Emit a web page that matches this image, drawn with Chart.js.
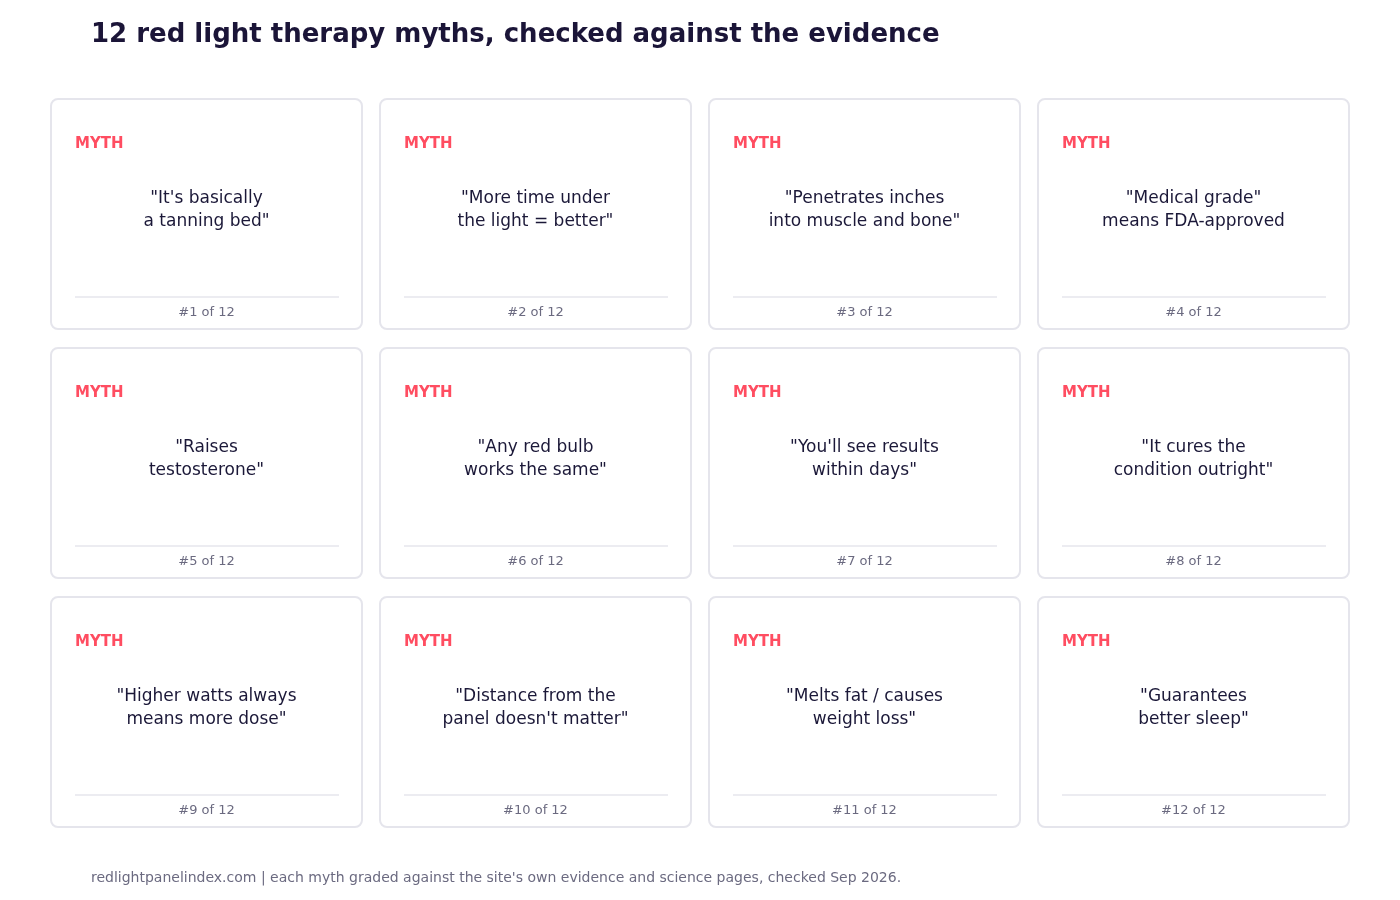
<!DOCTYPE html>
<html>
<head>
<meta charset="utf-8">
<script src="https://cdn.jsdelivr.net/npm/chart.js@4.4.1/dist/chart.umd.min.js"></script>
<style>
  html, body { margin: 0; padding: 0; background: #ffffff; }
  #wrap { width: 1400px; height: 900px; }
</style>
</head>
<body>
<div id="wrap"><canvas id="mythGrid" width="1400" height="900"></canvas></div>
<script>
const titleText = "12 red light therapy myths, checked against the evidence";
const footerText = "redlightpanelindex.com | each myth graded against the site's own evidence and science pages, checked Sep 2026.";

const cardTag = "MYTH";
const myths = [
  "\"It's basically\na tanning bed\"",
  "\"More time under\nthe light = better\"",
  "\"Penetrates inches\ninto muscle and bone\"",
  "\"Medical grade\"\nmeans FDA-approved",
  "\"Raises\ntestosterone\"",
  "\"Any red bulb\nworks the same\"",
  "\"You'll see results\nwithin days\"",
  "\"It cures the\ncondition outright\"",
  "\"Higher watts always\nmeans more dose\"",
  "\"Distance from the\npanel doesn't matter\"",
  "\"Melts fat / causes\nweight loss\"",
  "\"Guarantees\nbetter sleep\""
];
const mythNumbers = myths.map((m, i) => "#" + (i + 1) + " of " + myths.length);

const gridCols = 4;
const gridRows = 3;
const cardPoints = myths.map((m, i) => ({ x: (i % gridCols) + 0.5, y: Math.floor(i / gridCols) + 0.5 }));

const FONT = "'DejaVu Sans', sans-serif";

function roundRect(ctx, x, y, w, h, r) {
  ctx.beginPath();
  ctx.moveTo(x + r, y);
  ctx.lineTo(x + w - r, y);
  ctx.arcTo(x + w, y, x + w, y + r, r);
  ctx.lineTo(x + w, y + h - r);
  ctx.arcTo(x + w, y + h, x + w - r, y + h, r);
  ctx.lineTo(x + r, y + h);
  ctx.arcTo(x, y + h, x, y + h - r, r);
  ctx.lineTo(x, y + r);
  ctx.arcTo(x, y, x + r, y, r);
  ctx.closePath();
}

const cardPlugin = {
  id: "cards",
  afterDatasetsDraw(chart) {
    const ctx = chart.ctx;
    const xs = chart.scales.x;
    const ys = chart.scales.y;
    const meta = chart.getDatasetMeta(0);
    const halfW = (xs.getPixelForValue(1) - xs.getPixelForValue(0)) / 2 - 9;
    const halfH = Math.abs(ys.getPixelForValue(1) - ys.getPixelForValue(0)) / 2 - 9.5;

    meta.data.forEach((pt, i) => {
      const left = pt.x - halfW;
      const top = pt.y - halfH;
      const w = halfW * 2;
      const h = halfH * 2;
      ctx.save();
      roundRect(ctx, left, top, w, h, 7);
      ctx.fillStyle = "#ffffff";
      ctx.fill();
      ctx.lineWidth = 2;
      ctx.strokeStyle = "#e5e5ec";
      ctx.stroke();

      ctx.fillStyle = "#ff4d61";
      ctx.font = "bold 15px " + FONT;
      ctx.textAlign = "left";
      ctx.textBaseline = "middle";
      ctx.fillText(cardTag, left + 24, top + 45);

      const lines = myths[i].split("\n");
      ctx.fillStyle = "#1b1838";
      ctx.font = "17px " + FONT;
      ctx.textAlign = "center";
      const lh = 23.5;
      const mid = top + 111;
      lines.forEach((ln, k) => {
        ctx.fillText(ln, pt.x, mid + (k - (lines.length - 1) / 2) * lh);
      });

      ctx.beginPath();
      ctx.moveTo(left + 24, top + 198);
      ctx.lineTo(left + w - 23, top + 198);
      ctx.lineWidth = 1.5;
      ctx.strokeStyle = "#e6e6ec";
      ctx.stroke();

      ctx.fillStyle = "#6b6a80";
      ctx.font = "13px " + FONT;
      ctx.fillText(mythNumbers[i], pt.x, top + 214);
      ctx.restore();
    });

    ctx.save();
    ctx.fillStyle = "#1b1538";
    ctx.font = "bold 26px " + FONT;
    ctx.textAlign = "left";
    ctx.textBaseline = "middle";
    ctx.fillText(titleText, 91, 35);
    ctx.fillStyle = "#6b6a80";
    ctx.font = "14px " + FONT;
    ctx.fillText(footerText, 91, 878);
    ctx.restore();
  }
};

new Chart(document.getElementById("mythGrid").getContext("2d"), {
  type: "scatter",
  data: {
    datasets: [{
      data: cardPoints,
      pointRadius: 0,
      pointHoverRadius: 0
    }]
  },
  options: {
    responsive: false,
    animation: false,
    devicePixelRatio: 1,
    layout: { padding: { left: 42, right: 42, top: 89.5, bottom: 63.5 } },
    scales: {
      x: { type: "linear", min: 0, max: gridCols, display: false },
      y: { type: "linear", min: 0, max: gridRows, reverse: true, display: false }
    },
    plugins: {
      legend: { display: false },
      tooltip: { enabled: false }
    }
  },
  plugins: [cardPlugin]
});
</script>
</body>
</html>
